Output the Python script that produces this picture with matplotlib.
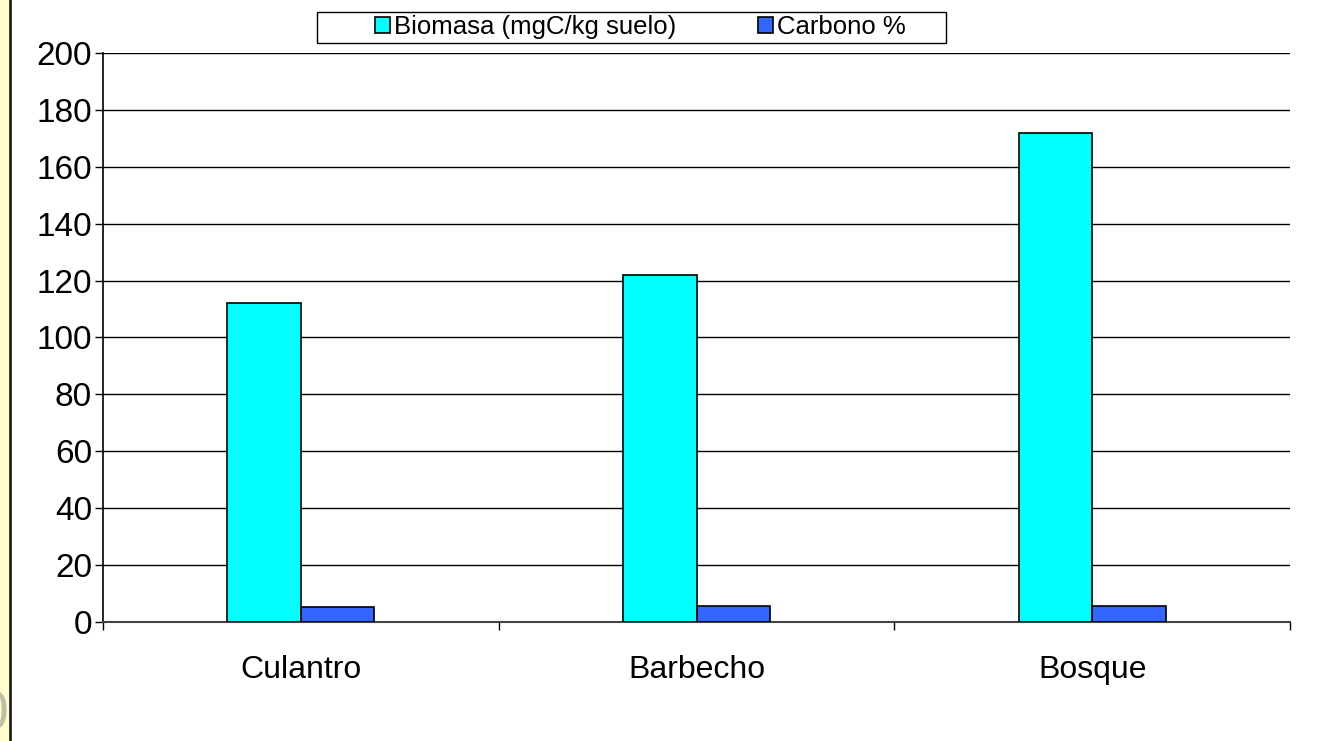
import matplotlib.pyplot as plt
import matplotlib.patches as mpatches
import matplotlib.lines as mlines
import numpy as np

# --- DATOS ---
categorias = ["Culantro", "Barbecho", "Bosque"]
biomasa = [112, 122, 172]      # mgC/kg suelo
carbono = [5.2, 5.6, 5.6]      # %
series = ["Biomasa (mgC/kg suelo)", "Carbono %"]
y_ticks = [0, 20, 40, 60, 80, 100, 120, 140, 160, 180, 200]

plt.rcParams['font.family'] = ['Liberation Sans', 'DejaVu Sans']

fig = plt.figure(figsize=(13.38, 7.41), dpi=100)
ax = fig.add_axes([0.077, 0.1606, 0.8872, 0.7679])

x = np.arange(len(categorias))
w = 0.186
ax.bar(x - w / 2, biomasa, w, color='#00FFFF', edgecolor='black', linewidth=1.2,
       label=series[0], zorder=3)
ax.bar(x + w / 2, carbono, w, color='#3366FF', edgecolor='black', linewidth=1.2,
       label=series[1], zorder=3)

ax.set_xlim(-0.5, len(categorias) - 0.5)
ax.set_ylim(0, 200)
ax.set_yticks(y_ticks)
ax.tick_params(axis='y', labelsize=24, length=6, width=1, pad=2)

# categorias en el centro, marcas en los bordes
ax.set_xticks(x)
ax.set_xticklabels(categorias)
ax.set_xticks(np.arange(len(categorias) + 1) - 0.5, minor=True)
ax.tick_params(axis='x', which='major', length=0, labelsize=23, pad=24)
ax.tick_params(axis='x', which='minor', length=6, width=1)

ax.grid(axis='y', color='black', linewidth=1, zorder=0)
for s in ['top', 'right']:
    ax.spines[s].set_visible(False)
ax.spines['left'].set_linewidth(1.2)
ax.spines['bottom'].set_color('#444444')
ax.spines['bottom'].set_linewidth(1.5)

# leyenda sin marco + caja aparte (estilo Excel)
leg = fig.legend(loc='center', bbox_to_anchor=(0.4787, 0.963), ncol=2, fontsize=18.5,
                 frameon=False, handlelength=0.58, handleheight=0.58, handletextpad=0.16,
                 columnspacing=3.2, borderpad=0, borderaxespad=0)
fig.patches.append(mpatches.Rectangle((317 / 1338, 1 - 43 / 741), 629 / 1338, 31 / 741,
                                      transform=fig.transFigure, facecolor='none',
                                      edgecolor='black', linewidth=1))

# franja amarilla a la izquierda (diapositiva)
fig.patches.append(mpatches.Rectangle((0, 0), 9 / 1338, 1, transform=fig.transFigure,
                                      facecolor='#FFFFCC', edgecolor='none'))
fig.lines.append(mlines.Line2D([10 / 1338, 10 / 1338], [0, 1], transform=fig.transFigure,
                               color='#222222', linewidth=2))
fig.text(9 / 1338, 0.035, "0", ha='right', va='center', fontsize=40, color='#C0C0A8')

fig.savefig("out.png", dpi=100)
